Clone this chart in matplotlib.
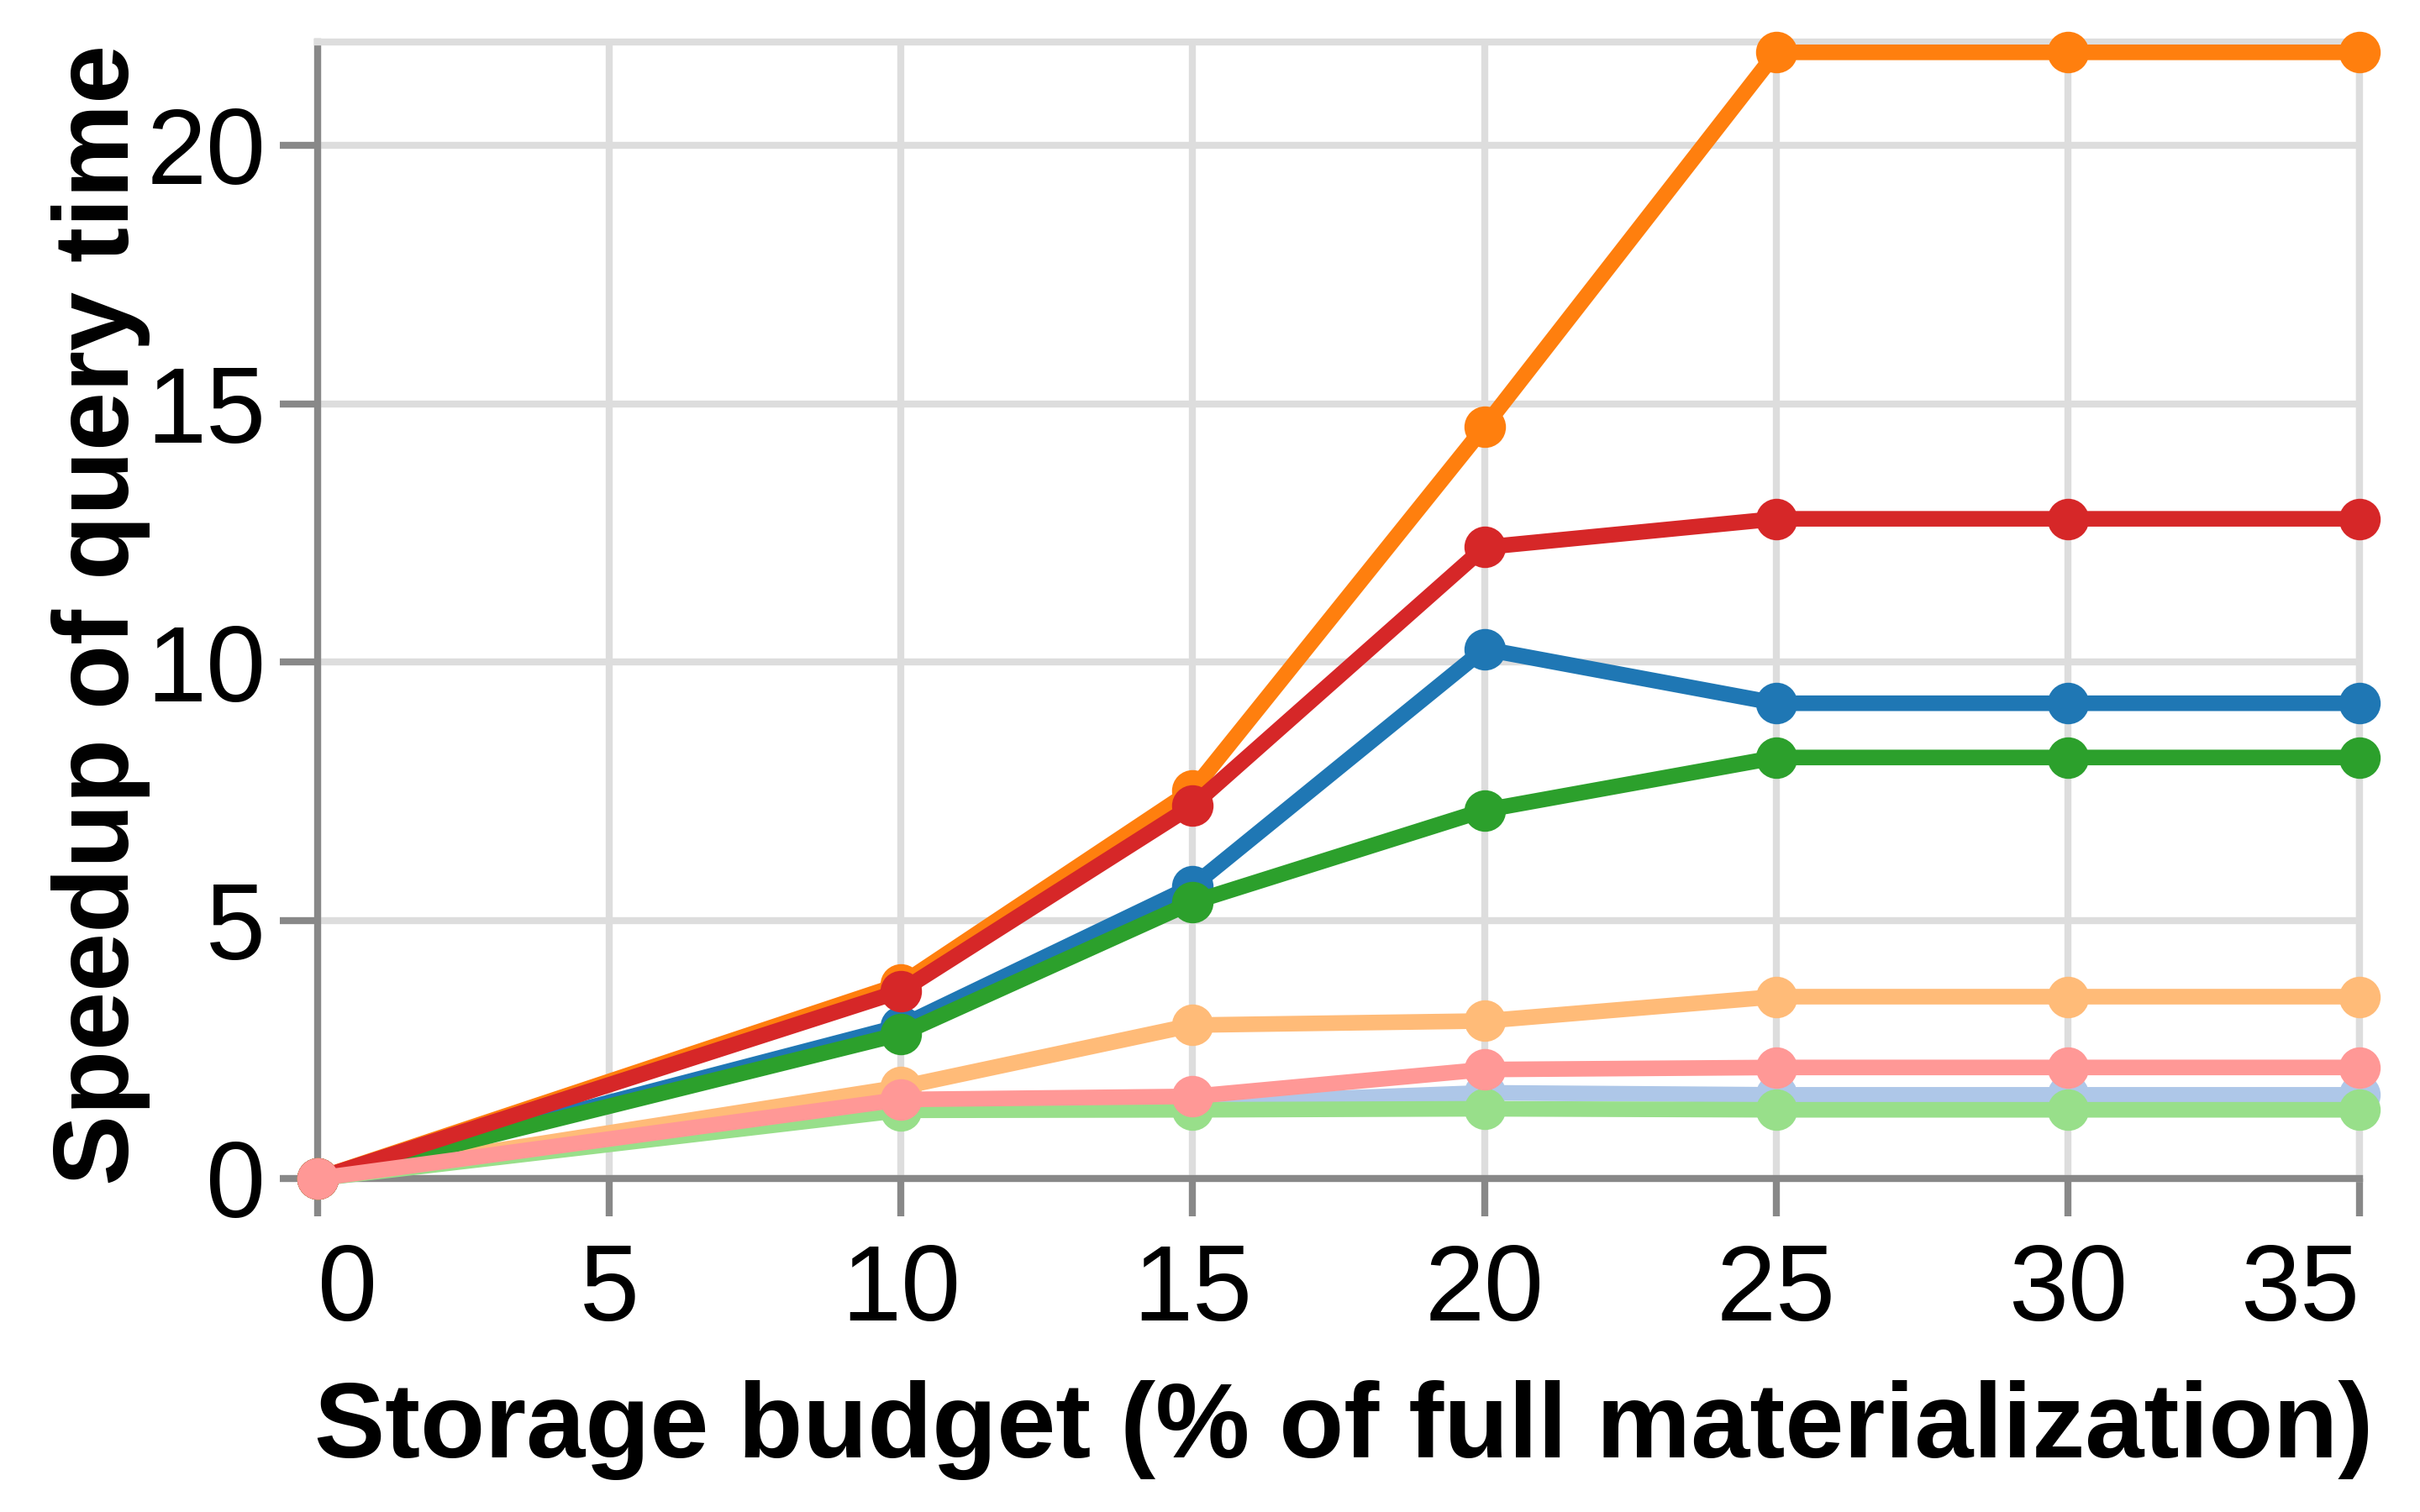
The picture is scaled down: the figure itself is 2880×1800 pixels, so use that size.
import matplotlib
matplotlib.use("Agg")
import matplotlib.pyplot as plt

# ---- data ----
budget = [0, 10, 15, 20, 25, 30, 35]

series_names = ["s1", "s1_light", "s2", "s2_light", "s3", "s3_light", "s4", "s4_light"]
s1 = [0, 2.95, 5.66, 10.25, 9.2, 9.2, 9.2]          # blue
s1_light = [0, 1.42, 1.45, 1.66, 1.62, 1.62, 1.62]  # light blue
s2 = [0, 3.76, 7.52, 14.55, 21.8, 21.8, 21.8]       # orange
s2_light = [0, 1.77, 2.97, 3.05, 3.52, 3.52, 3.52]  # light orange
s3 = [0, 2.8, 5.35, 7.13, 8.15, 8.15, 8.15]         # green
s3_light = [0, 1.32, 1.33, 1.35, 1.33, 1.33, 1.33]  # light green
s4 = [0, 3.63, 7.22, 12.22, 12.77, 12.77, 12.77]    # red
s4_light = [0, 1.53, 1.59, 2.11, 2.15, 2.15, 2.15]  # light red

values = [s1, s1_light, s2, s2_light, s3, s3_light, s4, s4_light]
colors = ["#1f77b4", "#aec7e8", "#ff7f0e", "#ffbb78",
          "#2ca02c", "#98df8a", "#d62728", "#ff9896"]

x_ticks = [0, 5, 10, 15, 20, 25, 30, 35]
y_ticks = [0, 5, 10, 15, 20]
x_label = "Storage budget (% of full materialization)"
y_label = "Speedup of query time"

# ---- figure ----
plt.rcParams["font.family"] = ["Liberation Sans", "DejaVu Sans"]
fig = plt.figure(figsize=(14.4, 9), dpi=200)
ax = fig.add_axes([378 / 2880, 1 - 1403 / 1800, (2808 - 378) / 2880, (1403 - 50) / 1800])

for vals, col in zip(values, colors):
    ax.plot(budget, vals, color=col, linewidth=6.7, marker="o", markersize=17.8,
            markeredgewidth=0, solid_joinstyle="miter", zorder=3, clip_on=False)

ax.set_xlim(0, 35)
ax.set_ylim(0, 22)
ax.set_xticks(x_ticks)
ax.set_yticks(y_ticks)
ax.set_xticklabels([str(t) for t in x_ticks])
ax.set_yticklabels([str(t) for t in y_ticks])

ax.grid(True, color="#dddddd", linewidth=3)
ax.set_axisbelow(True)

for side in ["left", "bottom"]:
    ax.spines[side].set_color("#888888")
    ax.spines[side].set_linewidth(3)
    ax.spines[side].set_zorder(2.5)
for side in ["top", "right"]:
    ax.spines[side].set_color("#dddddd")
    ax.spines[side].set_linewidth(3)

ax.tick_params(axis="both", length=16.2, width=3, color="#888888",
               labelsize=46, labelcolor="black")
ax.tick_params(axis="x", pad=11)
ax.tick_params(axis="y", pad=6)

# flush first/last x labels
xt = ax.xaxis.get_major_ticks()
xt[0].label1.set_horizontalalignment("left")
xt[-1].label1.set_horizontalalignment("right")

ax.set_xlabel(x_label, fontsize=45.4, fontweight="bold", va="baseline", ha="center")
ax.xaxis.set_label_coords(0.5025, -0.2454)
ax.set_ylabel(y_label, fontsize=45.4, fontweight="bold", va="baseline", ha="center",
              rotation=90, rotation_mode="anchor")
ax.yaxis.set_label_coords(-0.0926, 0.4959)

fig.savefig("out.png", dpi=200, facecolor="white")
